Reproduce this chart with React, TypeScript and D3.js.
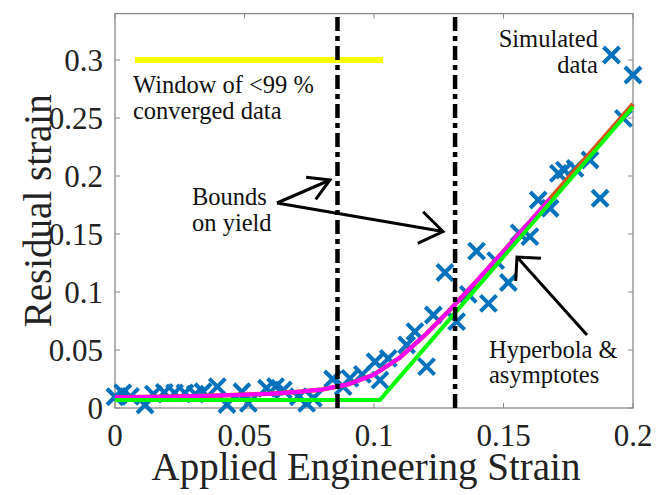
import React from 'react';
import * as d3 from 'd3';

// ---- data ----
const simX = [0.000, 0.003, 0.006, 0.0116, 0.0148, 0.019, 0.023, 0.027, 0.031, 0.034, 0.0395, 0.0432, 0.049, 0.0515, 0.0585, 0.062, 0.065, 0.0708, 0.074, 0.0766, 0.084, 0.0881, 0.0907, 0.0955, 0.1004, 0.1023, 0.1055, 0.1126, 0.1158, 0.1203, 0.1229, 0.1274, 0.1319, 0.1364, 0.1396, 0.1442, 0.147, 0.1519, 0.156, 0.1602, 0.1634, 0.168, 0.1712, 0.1735, 0.1776, 0.1834, 0.1873, 0.1963, 0.1917, 0.2];
const simY = [0.0097, 0.013, 0.010, 0.0026, 0.012, 0.0135, 0.013, 0.013, 0.012, 0.014, 0.0184, 0.003, 0.014, 0.004, 0.017, 0.0184, 0.0155, 0.0097, 0.004, 0.0084, 0.025, 0.0184, 0.0256, 0.029, 0.0399, 0.0241, 0.0428, 0.0543, 0.0658, 0.0356, 0.0802, 0.1168, 0.0744, 0.098, 0.1352, 0.0902, 0.127, 0.1082, 0.151, 0.1477, 0.1793, 0.1722, 0.2023, 0.205, 0.2066, 0.2138, 0.1808, 0.2497, 0.3043, 0.2871];

const hypX = [0, 0.02, 0.04, 0.06, 0.07, 0.08, 0.09, 0.1, 0.11, 0.12, 0.13, 0.14, 0.15, 0.16, 0.17, 0.18, 0.19, 0.2];
const hypY = [0.0093, 0.0098, 0.0107, 0.0123, 0.0137, 0.016, 0.0204, 0.0288, 0.0435, 0.0635, 0.0863, 0.1104, 0.1351, 0.1602, 0.1855, 0.211, 0.2365, 0.2621];
const magentaEnd = 0.168;

const asymX = [0, 0.1023, 0.2];
const asymY = [0.007, 0.007, 0.2597];

const windowX = [0.0077, 0.1035];
const windowY = 0.3;
const yieldBounds = [0.0859, 0.1313];

const xTicks = [0, 0.05, 0.1, 0.15, 0.2];
const xTickLabels = ['0', '0.05', '0.1', '0.15', '0.2'];
const yTicks = [0, 0.05, 0.1, 0.15, 0.2, 0.25, 0.3];
const yTickLabels = ['0', '0.05', '0.1', '0.15', '0.2', '0.25', '0.3'];

const FONT = '"Liberation Serif", "Times New Roman", serif';

function Arrow({ x1, y1, x2, y2, len = 24, half = 32 }: any) {
  const ang = Math.atan2(y1 - y2, x1 - x2);
  const h = (half * Math.PI) / 180;
  const a1 = [x2 + len * Math.cos(ang + h), y2 + len * Math.sin(ang + h)];
  const a2 = [x2 + len * Math.cos(ang - h), y2 + len * Math.sin(ang - h)];
  return (
    <g stroke="#000" strokeWidth={3} fill="none" strokeLinecap="butt">
      <line x1={x1} y1={y1} x2={x2} y2={y2} />
      <polyline points={`${a1[0]},${a1[1]} ${x2},${y2} ${a2[0]},${a2[1]}`} />
    </g>
  );
}

export default function App() {
  const W = 656, H = 495;
  const L = 115, R = 633, T = 13.6, B = 408;
  const x = d3.scaleLinear().domain([0, 0.2]).range([L, R]);
  const y = d3.scaleLinear().domain([0, 0.34]).range([B, T]);

  const line = d3.line<[number, number]>().x((d) => x(d[0])).y((d) => y(d[1]));
  const hypPts: [number, number][] = hypX.map((v, i) => [v, hypY[i]]);
  const magPts: [number, number][] = [];
  hypX.forEach((v, i) => {
    if (v <= magentaEnd) magPts.push([v, hypY[i]]);
  });
  const last = hypX.findIndex((v) => v > magentaEnd);
  if (last > 0) {
    const t = (magentaEnd - hypX[last - 1]) / (hypX[last] - hypX[last - 1]);
    magPts.push([magentaEnd, hypY[last - 1] + t * (hypY[last] - hypY[last - 1])]);
  }
  const asymPts: [number, number][] = asymX.map((v, i) => [v, asymY[i]]);

  const ms = 8;
  const tickLen = 5;
  const axisColor = '#8a8a8a';

  return (
    <svg width={W} height={H} style={{ position: 'absolute', left: 0, top: 0, background: '#fff' }} fontFamily={FONT}>
      <rect x={0} y={0} width={W} height={H} fill="#fff" />
      {/* axes box */}
      <rect x={L} y={T} width={R - L} height={B - T} fill="none" stroke={axisColor} strokeWidth={1.3} />
      {xTicks.map((t, i) => (
        <g key={'xt' + i}>
          <line x1={x(t)} x2={x(t)} y1={B} y2={B - tickLen} stroke={axisColor} />
          <line x1={x(t)} x2={x(t)} y1={T} y2={T + tickLen} stroke={axisColor} />
          <text x={x(t)} y={446} textAnchor="middle" fontSize={31} fill="#222">{xTickLabels[i]}</text>
        </g>
      ))}
      {yTicks.map((t, i) => (
        <g key={'yt' + i}>
          <line x1={L} x2={L + tickLen} y1={y(t)} y2={y(t)} stroke={axisColor} />
          <line x1={R} x2={R - tickLen} y1={y(t)} y2={y(t)} stroke={axisColor} />
          <text x={103} y={y(t) + 10.5} textAnchor="end" fontSize={31} fill="#222">{yTickLabels[i]}</text>
        </g>
      ))}
      <text x={(L + R) / 2 - 8} y={480} textAnchor="middle" fontSize={39} fill="#222">Applied Engineering Strain</text>
      <text transform={`translate(51, ${(T + B) / 2}) rotate(-90)`} textAnchor="middle" fontSize={39} fill="#222">Residual strain</text>

      {/* simulated data */}
      <g stroke="#0072BD" strokeWidth={4} strokeLinecap="butt">
        {simX.map((v, i) => {
          const cx = x(v), cy = y(simY[i]);
          return (
            <g key={'m' + i}>
              <line x1={cx - ms} y1={cy - ms} x2={cx + ms} y2={cy + ms} />
              <line x1={cx - ms} y1={cy + ms} x2={cx + ms} y2={cy - ms} />
            </g>
          );
        })}
      </g>

      {/* fits */}
      <path d={line(hypPts) || ''} fill="none" stroke="#D95319" strokeWidth={4.5} />
      <path d={line(magPts) || ''} fill="none" stroke="#FF00FF" strokeWidth={4} />
      <path d={line(asymPts) || ''} fill="none" stroke="#00FF00" strokeWidth={4} />

      {/* window */}
      <line x1={x(windowX[0])} x2={x(windowX[1])} y1={y(windowY)} y2={y(windowY)} stroke="#FFFF00" strokeWidth={6} />

      {/* yield bounds */}
      {yieldBounds.map((b, i) => (
        <line key={'yb' + i} x1={x(b)} x2={x(b)} y1={17} y2={B + 2} stroke="#000" strokeWidth={4.5} strokeDasharray="14,5,5,5" />
      ))}

      {/* annotations */}
      <g fontSize={24.5} fill="#111">
        <text x={133} y={92.5}>Window of &lt;99 %</text>
        <text x={133} y={119}>converged data</text>
        <text x={192} y={205}>Bounds</text>
        <text x={192} y={231}>on yield</text>
        <text x={598} y={47} textAnchor="end">Simulated</text>
        <text x={598} y={73} textAnchor="end">data</text>
        <text x={489} y={358}>Hyperbola &amp;</text>
        <text x={489} y={383}>asymptotes</text>
      </g>
      <Arrow x1={277} y1={203} x2={330} y2={180} len={24} half={30} />
      <Arrow x1={277} y1={203} x2={443} y2={231.5} len={28} half={35} />
      <Arrow x1={587} y1={335} x2={517} y2={257} len={24} half={45} />
    </svg>
  );
}
